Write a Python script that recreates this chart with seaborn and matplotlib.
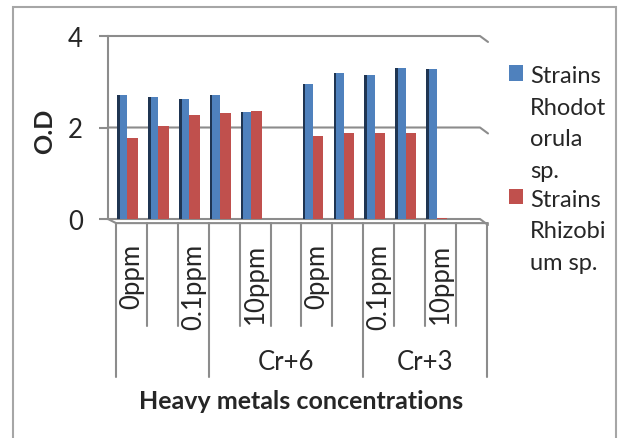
import matplotlib
matplotlib.use("Agg")
import matplotlib.pyplot as plt
import pandas as pd
import seaborn as sns
from matplotlib.patches import Rectangle

# Category table: concentration labels (every other one shown) and metal groups
conc_labels = ["0ppm", "", "0.1ppm", "", "10ppm", "", "0ppm", "", "0.1ppm", "", "10ppm", ""]
group_labels = ["", "Cr+6", "Cr+3"]
group_sizes = [3, 5, 4]

# Optical density per strain
rhodotorula = [2.70, 2.66, 2.63, 2.70, 2.34, 0.0, 2.96, 3.20, 3.14, 3.31, 3.28, 0.0]
rhizobium = [1.77, 2.03, 2.28, 2.31, 2.36, 0.0, 1.82, 1.88, 1.88, 1.88, 0.02, 0.0]
series_names = ["Strains\nRhodot\norula\nsp.", "Strains\nRhizobi\num sp."]
y_ticks = [0, 2, 4]

samples = list(range(len(conc_labels)))
df = pd.DataFrame({
    "sample": samples * 2,
    "od": rhodotorula + rhizobium,
    "strain": [series_names[0]] * len(samples) + [series_names[1]] * len(samples),
})

sns.set_style("white")
plt.rcParams["font.family"] = ["Lato", "DejaVu Sans"]

W, H = 619, 439
FS = 17
FS_TABLE = 18.5
GRID = "#8c8c8c"
fig = plt.figure(figsize=(W / 100, H / 100), dpi=100)
ax = fig.add_axes([108 / W, 1 - 220 / H, 380 / W, 183 / H])

sns.barplot(data=df, x="sample", y="od", hue="strain",
            palette=["#4F81BD", "#C0504D"], saturation=1, width=0.67,
            errorbar=None, linewidth=0, ax=ax, zorder=3)

# darker left face on the front bars for a bevelled look
for bar in ax.containers[0]:
    ax.add_patch(Rectangle((bar.get_x(), 0), bar.get_width() * 0.25, bar.get_height(),
                           facecolor="#1F3552", lw=0, zorder=4))

x_left, x_right = -0.63, 11.66
ax.set_xlim(x_left, x_right)
ax.set_ylim(0, 4)
ax.set_xticks([])
ax.set_xlabel("")
ax.set_ylabel("")
ax.set_yticks(y_ticks)
ax.tick_params(axis="y", length=6.5, width=1.5, color=GRID, pad=11.5,
               labelsize=FS_TABLE, direction="out", left=True)
for side in ["top", "right", "bottom"]:
    ax.spines[side].set_visible(False)
ax.spines["left"].set_color(GRID)
ax.spines["left"].set_linewidth(1.5)

# back-wall gridlines with the perspective kink at the right
for v in y_ticks:
    ax.plot([x_left, 11.40, x_right], [v, v, v - 0.13], color=GRID, lw=1.5,
            clip_on=False, zorder=1)
# floor front edge
ax.plot([x_left, -0.37, x_right], [0, -0.09, -0.09], color=GRID, lw=1.5,
        clip_on=False, zorder=1)

# category table beneath the floor
trans = ax.get_xaxis_transform()
px = 1 / 183
bounds = [0]
for s in group_sizes:
    bounds.append(bounds[-1] + s)
for k in range(len(conc_labels) + 1):
    x = k - 0.372
    y1 = -158 * px if k in bounds else -107 * px
    ax.plot([x, x], [-4 * px, y1], color=GRID, lw=1.5, transform=trans, clip_on=False)
for k, lab in enumerate(conc_labels):
    if lab:
        ax.text(k - 0.372 + 0.5, -24 * px, lab, rotation=90, ha="center", va="top",
                fontsize=FS_TABLE, transform=trans)
for g, lab in enumerate(group_labels):
    if lab:
        xc = (bounds[g] + bounds[g + 1]) / 2 - 0.372
        ax.text(xc, -143 * px, lab, ha="center", va="center", fontsize=FS_TABLE,
                transform=trans)

fig.text(301 / W, 1 - 402 / H, "Heavy metals concentrations", ha="center", va="center",
         fontsize=18, fontweight="bold")
fig.text(45 / W, 1 - 131 / H, "O.D", ha="center", va="center", rotation=90,
         fontsize=18, fontweight="bold")

handles, labels = ax.get_legend_handles_labels()
ax.get_legend().remove()
em = FS * 100 / 72
leg = ax.legend(handles, labels, loc="upper left", bbox_to_anchor=(509 / W, 1 - 66 / H),
                bbox_transform=fig.transFigure, frameon=False, fontsize=FS,
                handlelength=14 / em, handleheight=15 / em, handletextpad=7 / em,
                borderpad=0, borderaxespad=0, labelspacing=0.35)
for t in leg.get_texts():
    t.set_linespacing(1.62)
for col in leg._legend_handle_box.get_children():
    for item in col.get_children():
        item.align = "top"

# chart frame
fig.add_artist(Rectangle((13 / W, -0.1), (616 - 13) / W, (439 - 8) / H + 0.1,
                         transform=fig.transFigure, fill=False, ec="#a6a6a6", lw=1.5))

fig.savefig("out.png", dpi=100)
